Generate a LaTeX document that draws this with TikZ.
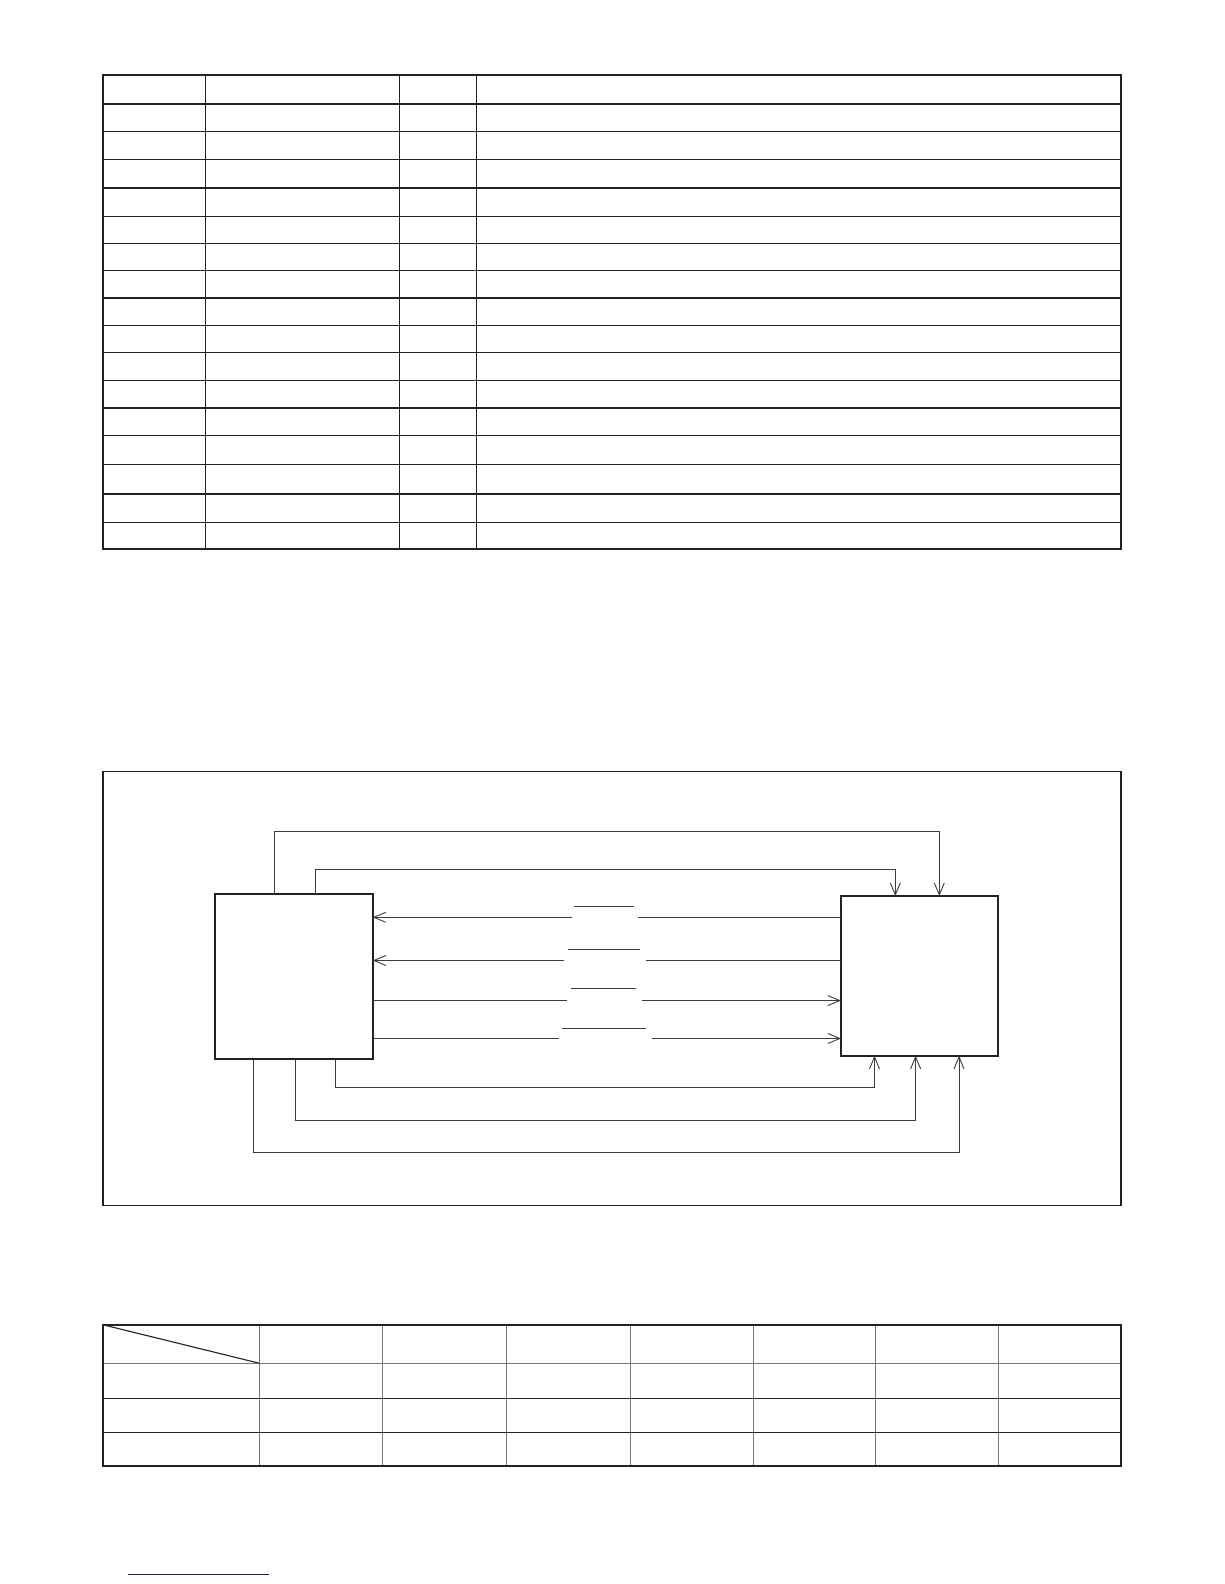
\documentclass[tikz,border=0pt]{standalone}
\usetikzlibrary{arrows.meta}
\definecolor{ink}{HTML}{222222}
\definecolor{conncol}{HTML}{3C3C3C}
\definecolor{lightcol}{HTML}{777777}
\definecolor{navy}{HTML}{1A1A7A}
\tikzset{
  outerline/.style={draw=ink, line width=2.2pt},
  innerline/.style={draw=ink, line width=1.2pt},
  blockbox/.style={draw=ink, line width=1.8pt, inner sep=0pt, outer sep=0pt},
  conn/.style={draw=conncol, line width=0.9pt},
  arr/.style={-{Straight Barb[length=12pt,width=10pt]}},
  rarr/.style={{Straight Barb[length=12pt,width=10pt]}-},
  barline/.style={draw=conncol, line width=0.9pt},
}
\begin{document}
\begin{tikzpicture}[x=1pt,y=-1pt]
\useasboundingbox (0,0) rectangle (1224,1584);
\fill[white] (0,0) rectangle (1224,1584);

% ---------------- top table ----------------
\foreach \yy in {104,131.3,159.6,187.9,216.1,243.4,270.7,298,325.2,352.5,380.8,408,435.3,464.6,493.9,522.2}
  \draw[innerline] (102.7,\yy) -- (1120.7,\yy);
\foreach \xx in {205.3,399.3,476.7}
  \draw[innerline] (\xx,75) -- (\xx,549.3);
\draw[outerline] (102.7,75) rectangle (1120.7,549.3);

% ---------------- block diagram ----------------
\draw[draw=ink, line width=1.6pt] (102.7,771.3) rectangle (1120.7,1205.5);

\node[blockbox, minimum width=158pt, minimum height=164.7pt] (lb) at (293.7,976.35) {};
\node[blockbox, minimum width=157pt, minimum height=159.7pt] (rb) at (919.5,975.85) {};

% top loops
\coordinate (tA1) at (274.3,831.7);
\coordinate (tA2) at (939.3,831.7);
\coordinate (tB1) at (315.7,869.3);
\coordinate (tB2) at (895.3,869.3);
\draw[conn,arr] (lb.north -| tA1) -- (tA1) -- (tA2) -- (rb.north -| tA2);
\draw[conn,arr] (lb.north -| tB1) -- (tB1) -- (tB2) -- (rb.north -| tB2);

% bottom loops
\coordinate (bA1) at (335.6,1087.8);
\coordinate (bA2) at (874.5,1087.8);
\coordinate (bB1) at (295.3,1120.2);
\coordinate (bB2) at (915.6,1120.2);
\coordinate (bC1) at (253.8,1152.6);
\coordinate (bC2) at (959,1152.6);
\draw[conn,arr] (lb.south -| bA1) -- (bA1) -- (bA2) -- (rb.south -| bA2);
\draw[conn,arr] (lb.south -| bB1) -- (bB1) -- (bB2) -- (rb.south -| bB2);
\draw[conn,arr] (lb.south -| bC1) -- (bC1) -- (bC2) -- (rb.south -| bC2);

% horizontal signals
\coordinate (g1l) at (571.7,917.3);  \coordinate (g1r) at (638.3,917.3);
\coordinate (g2l) at (564,960.5);    \coordinate (g2r) at (646,960.5);
\coordinate (g3l) at (566.7,1000.6); \coordinate (g3r) at (642,1000.6);
\coordinate (g4l) at (559,1038.5);   \coordinate (g4r) at (651.7,1038.5);

\draw[conn,rarr] (lb.east |- g1l) -- (g1l);
\draw[conn] (g1r) -- (rb.west |- g1r);
\draw[conn,rarr] (lb.east |- g2l) -- (g2l);
\draw[conn] (g2r) -- (rb.west |- g2r);
\draw[conn] (lb.east |- g3l) -- (g3l);
\draw[conn,arr] (g3r) -- (rb.west |- g3r);
\draw[conn] (lb.east |- g4l) -- (g4l);
\draw[conn,arr] (g4r) -- (rb.west |- g4r);

% overbars in the gaps
\draw[barline] (573.7,906) -- (634,906);
\draw[barline] (568.2,949.3) -- (639.8,949.3);
\draw[barline] (571,988.2) -- (635.8,988.2);
\draw[barline] (561.8,1028.3) -- (645.8,1028.3);

% ---------------- bottom table ----------------
\foreach \xx in {259.2,382.7,506,630.1,753,875.8,998.8}
  \draw[draw=lightcol, line width=0.9pt] (\xx,1324.7) -- (\xx,1466);
\draw[draw=lightcol, line width=1.4pt] (102.7,1363.2) -- (1120.7,1363.2);
\foreach \yy in {1398.2,1432.1}
  \draw[innerline] (102.7,\yy) -- (1120.7,\yy);
\draw[draw=ink, line width=1.1pt] (102.7,1324.7) -- (259.2,1363.2);
\draw[outerline] (102.7,1324.7) rectangle (1120.7,1466);

% footer rule
\draw[draw=navy, line width=1.1pt] (127.5,1574.7) -- (269,1574.7);
\end{tikzpicture}
\end{document}
